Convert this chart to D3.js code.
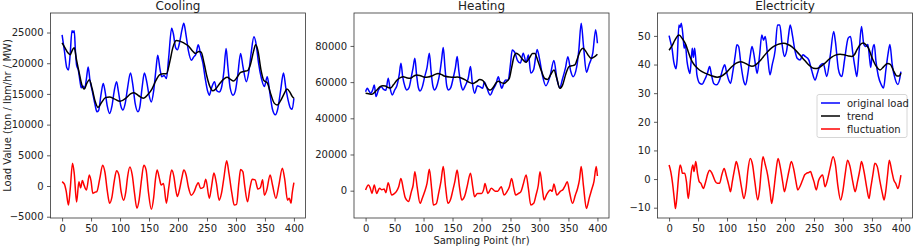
<!DOCTYPE html>
<html>
<head>
<meta charset="utf-8">
<script src="https://cdn.jsdelivr.net/npm/d3@7"></script>
<style>
  body { margin: 0; background: #fff; }
  svg { display: block; }
</style>
</head>
<body>
<svg id="chart"></svg>
<script>
// sampling point (hr), value
var coolLoad = [[0,24600],[4,22000],[8,19300],[11,18900],[14,21500],[17,25300],[19,25000],[21,25300],[23,22000],[25,19700],[28,18900],[31,17000],[33,16000],[36,16300],[39,15900],[42,17500],[45,19400],[48,17300],[52,15500],[57,13200],[60,12100],[63,12300],[67,14800],[71,16700],[74,15500],[78,13000],[82,11800],[86,13000],[90,15500],[94,17000],[97,15500],[101,13200],[105,12400],[109,13500],[113,16000],[118,18400],[122,16500],[126,13500],[131,12100],[134,12800],[138,16000],[142,18400],[146,17000],[150,14800],[154,13700],[158,15500],[162,19000],[165,21300],[169,19000],[172,17800],[176,18000],[180,17500],[184,21000],[189,25700],[192,24800],[196,22500],[199,22200],[203,23500],[207,25500],[210,26500],[214,24500],[218,22000],[223,20500],[227,21000],[231,21500],[235,23000],[239,21500],[243,20000],[247,17500],[251,15500],[254,14800],[258,16000],[263,17000],[267,15500],[271,15300],[275,16000],[279,18500],[283,22400],[286,19500],[290,16000],[295,14800],[299,15500],[303,18000],[308,21600],[312,19500],[318,17000],[322,18500],[326,21500],[331,24300],[335,23000],[339,20000],[344,17500],[349,16200],[354,17800],[358,15500],[363,12500],[368,11600],[372,12500],[377,15500],[382,18400],[386,16000],[390,14000],[394,12700],[397,12500],[400,14300]]
var coolTrend = [[0,23300],[5,22500],[10,21700],[14,21400],[18,22200],[21,22500],[25,20500],[30,18200],[34,16500],[38,15800],[43,16800],[47,17300],[52,15800],[57,13800],[62,12800],[68,13600],[75,14400],[82,14500],[90,14200],[100,13800],[110,14300],[118,15000],[124,15200],[132,14700],[140,14300],[148,14900],[155,15800],[162,17200],[168,18100],[175,18300],[180,18300],[186,20300],[191,22500],[197,23700],[203,23600],[210,23300],[218,22800],[225,22000],[230,21600],[236,21900],[240,21800],[245,20000],[250,17800],[255,16200],[260,15500],[265,15800],[272,16700],[280,17500],[285,17700],[290,17400],[296,17100],[302,17700],[308,18500],[315,18700],[320,18800],[325,19800],[330,21800],[334,23000],[338,22000],[343,19000],[348,17200],[354,16800],[360,15000],[366,13500],[371,13200],[377,13900],[383,15000],[388,15800],[393,15300],[397,14600],[400,14300]]
var coolFluct = [[0,700],[4,300],[7,-800],[11,-3100],[14,-500],[18,3700],[21,2000],[25,-2600],[29,700],[32,-300],[35,900],[38,100],[42,-650],[47,1800],[50,800],[53,-1200],[57,-1000],[60,-900],[65,1200],[70,3400],[74,2200],[78,-800],[82,-2800],[86,-1800],[90,800],[94,2500],[98,1800],[102,-1000],[106,-2300],[110,-900],[113,1500],[117,3100],[121,1800],[125,-1200],[129,-3600],[133,-2200],[137,1000],[141,3400],[145,2600],[149,-1000],[154,-3800],[158,-1900],[161,1000],[164,2600],[168,1200],[171,160],[175,400],[180,-2800],[184,-300],[189,2600],[193,1500],[196,-500],[199,-1700],[203,-400],[207,1500],[210,2600],[214,1800],[218,-200],[223,-1500],[228,-900],[232,100],[235,540],[239,-400],[244,-200],[248,1100],[254,-2000],[258,0],[262,2100],[266,600],[271,-2300],[275,-1200],[279,1200],[284,4100],[288,2000],[293,-1200],[297,-3100],[301,-3000],[305,500],[308,2700],[312,2300],[315,100],[320,-2550],[324,-400],[328,1100],[333,1000],[338,-500],[342,-300],[346,1000],[349,-1500],[353,-700],[359,1800],[363,200],[369,-2000],[374,100],[380,2900],[384,1200],[389,-2300],[392,-2000],[395,-2800],[397,-1200],[400,540]]

var heatLoad = [[0,54700],[3,56600],[6,55000],[9,53800],[12,55500],[15,58400],[18,52000],[22,55500],[27,57500],[31,56000],[35,55500],[39,62100],[42,57000],[46,52900],[50,55500],[54,58000],[58,64000],[61,70400],[64,63000],[68,57500],[71,55700],[75,57000],[79,63000],[82,68000],[85,73200],[88,64000],[91,57000],[94,55100],[98,57500],[102,63000],[106,68000],[110,75900],[113,66000],[116,58000],[119,55700],[124,59000],[128,65000],[131,72000],[134,79100],[137,68000],[140,58000],[143,55700],[147,57000],[151,62000],[155,68000],[158,74100],[161,66000],[165,58000],[168,55700],[172,58000],[177,62000],[181,68600],[184,60000],[188,53800],[193,58000],[197,57500],[202,56600],[205,60000],[209,57000],[215,52900],[220,56000],[225,59000],[229,63000],[232,59500],[235,56600],[239,60000],[242,61200],[246,61000],[250,70000],[253,77800],[258,76000],[262,72000],[267,70500],[272,76000],[277,71000],[281,75000],[285,65000],[290,67000],[296,78000],[300,73000],[305,64000],[311,58000],[318,63000],[325,72000],[330,62000],[335,57000],[340,62000],[345,68000],[349,74000],[354,66000],[358,63000],[364,68000],[368,78000],[372,92500],[376,80000],[381,65500],[386,70000],[392,76000],[397,89000],[400,81500]]
var heatTrend = [[0,53800],[5,53600],[11,53300],[16,54500],[20,55800],[25,57500],[30,58000],[34,57900],[39,57000],[43,56700],[48,58500],[54,61000],[60,62500],[65,63000],[72,62300],[77,62100],[83,63300],[88,64000],[95,63500],[102,62700],[108,62800],[115,63500],[120,64300],[125,64800],[130,64300],[137,63200],[145,62800],[152,62700],[158,62800],[165,62300],[172,61200],[178,60000],[185,59300],[191,60200],[197,61400],[202,61000],[207,58500],[212,56000],[215,55600],[220,57000],[225,59500],[229,60500],[234,59700],[239,59300],[244,60500],[248,62000],[252,68000],[256,74000],[260,76000],[265,75000],[271,72500],[277,71000],[283,73500],[288,75800],[292,75800],[297,72000],[303,66500],[309,62000],[314,61500],[320,64500],[325,66700],[330,62000],[335,56600],[340,58500],[345,64000],[351,68600],[356,69000],[361,69500],[366,73500],[371,77500],[375,78700],[380,77000],[385,74500],[389,73200],[394,73800],[400,75400]]
var heatFluct = [[0,400],[5,3100],[8,1500],[11,-1500],[15,3100],[19,-1500],[24,1300],[28,500],[32,900],[35,-1100],[39,4400],[45,-2400],[49,-1800],[53,-500],[57,2000],[61,6800],[65,1000],[68,-3500],[71,-5200],[74,-6000],[79,-500],[82,3000],[85,10500],[89,2000],[94,-7000],[98,-4000],[102,-500],[106,4000],[110,11800],[114,1000],[117,-7900],[122,-7200],[126,-1500],[130,5000],[134,13300],[138,2000],[142,-7000],[147,-4500],[150,-500],[154,5000],[158,11400],[162,2000],[166,-5200],[171,-3000],[175,2000],[181,9600],[185,2000],[188,-3300],[193,-1500],[200,-1500],[204,1000],[206,4000],[211,-1500],[217,1300],[224,-300],[228,-300],[234,2200],[239,-2400],[244,-500],[248,2000],[252,6800],[256,1000],[259,-2400],[264,-1500],[268,-500],[272,3500],[277,8700],[281,1000],[285,-7900],[290,-7000],[294,-2500],[298,3000],[301,10500],[305,1000],[308,-5200],[312,-2400],[319,370],[322,-300],[325,3700],[330,-2400],[336,-400],[341,800],[344,2500],[348,5000],[352,-1000],[357,-7000],[362,-2400],[366,1500],[369,6000],[372,13300],[376,2500],[381,-9800],[386,-4000],[390,500],[394,5000],[398,13300],[400,8100]]

var elecLoad = [[0,50.1],[3,47.5],[5,45.7],[8,41],[10,39.3],[12,38.5],[14,42],[17,53.8],[19,53],[21,54.4],[24,50],[26,45.7],[28,47],[31,41],[33,38.7],[36,36.9],[38,41],[40,45.7],[42,42.5],[44,45.7],[46,42],[48,36.4],[53,33.4],[57,33.1],[61,34.5],[66,36.9],[70,39.3],[73,36.5],[77,33.4],[82,32.9],[86,34],[90,36.5],[93,38.7],[96,39.9],[99,37.5],[103,34.5],[106,33.4],[110,37.5],[114,43],[117,46.9],[120,46.3],[124,40],[129,34],[132,32.9],[136,37],[140,43],[143,46.3],[146,44],[149,40],[152,36.9],[156,43],[160,50.3],[163,48.5],[166,49.8],[170,43],[174,36.4],[178,40],[183,45],[187,53.8],[191,53.8],[195,47],[199,42.8],[203,45],[206,50],[209,53.8],[213,50],[217,45],[221,42.2],[226,41.6],[231,43.4],[235,42.8],[241,41.6],[246,38],[252,34.6],[256,37],[260,39.5],[266,40.4],[272,35.8],[278,43],[284,51.5],[287,48],[292,38.5],[295,36.4],[298,35.8],[303,42],[309,49.2],[313,49.8],[317,44],[321,38.7],[324,35.8],[328,45],[332,53.3],[336,47],[339,46.3],[343,47],[346,42],[348,39],[351,45],[354,47],[357,41],[361,36],[366,33],[370,31.8],[374,38],[378,44],[381,47],[385,40],[390,35],[395,33],[400,37.5]]
var elecTrend = [[0,45],[5,46.5],[10,48.5],[17,50.3],[23,49],[29,46.9],[33,44.5],[37,42.2],[43,40],[49,38.7],[56,37.6],[63,36.9],[72,36.2],[83,35.6],[90,35.9],[97,36.9],[106,38.8],[115,40.4],[123,41],[130,40.6],[137,39.8],[143,39.4],[150,40],[157,41.3],[163,42.8],[170,44.5],[177,45.8],[183,46.6],[190,47.2],[198,47.4],[205,47],[212,46.2],[220,44.6],[228,42.8],[235,41.2],[242,39.7],[249,38.7],[255,38.6],[261,39.2],[268,40.3],[274,41.5],[280,42.5],[287,43.3],[295,43.6],[302,43.4],[309,43],[315,42.8],[320,43.5],[324,45.1],[330,47],[335,47.5],[340,46.8],[344,45.7],[350,42.5],[357,39.5],[364,38.1],[370,39.2],[377,40.4],[382,40],[388,37.5],[393,36],[397,36],[400,37]]
var elecFluct = [[0,4.9],[3,2.5],[6,-1.5],[9,-7],[11,-10.3],[14,-5],[16,0],[19,4.9],[21,4],[23,2],[27,2],[30,-1],[33,-6.8],[36,-2],[38,2],[41,4.9],[43,2.6],[46,6.1],[49,2],[52,-0.9],[55,-1.5],[59,-3.3],[63,-1],[67,2],[70,3.1],[74,2],[79,-0.5],[83,-1.5],[87,-1.5],[91,1.5],[95,3.7],[99,1],[103,-2.1],[106,-4.4],[109,-1],[113,3.5],[116,6.1],[120,3],[125,-3],[129,-6.8],[133,-3],[136,3],[140,7.2],[144,5],[148,-1],[153,-7.3],[156,-4],[159,3],[162,7.8],[166,5],[170,1.5],[174,-4],[177,-8.5],[180,-5],[184,2],[188,7.2],[192,4],[196,-1],[199,-4.4],[203,-1],[207,3],[211,6.1],[215,3.5],[219,-1],[222,-3.8],[226,-2.5],[230,-0.5],[234,1.5],[237,2],[241,2.3],[244,2.6],[247,1],[250,-0.9],[254,-3.8],[258,-0.5],[262,1],[265,1.4],[269,-2.7],[273,-0.5],[278,4],[283,7.8],[287,5],[291,-2],[296,-7.3],[300,-4],[304,2],[308,6.6],[312,4.5],[317,-1],[321,-4.4],[325,-1],[329,3],[332,6.1],[336,3],[341,-3],[345,-6.8],[348,-3],[352,2],[355,5.5],[359,4.5],[364,-1],[368,-5],[371,-7.3],[374,-4],[377,1.5],[380,6.6],[384,3],[388,-0.5],[391,-1.5],[395,-3.3],[398,-1],[400,1.4]]

var titles = ["Cooling", "Heating", "Electricity"]
var xTicks = [0, 50, 100, 150, 200, 250, 300, 350, 400]
var coolTicks = [-5000, 0, 5000, 10000, 15000, 20000, 25000]
var heatTicks = [0, 20000, 40000, 60000, 80000]
var elecTicks = [-10, 0, 10, 20, 30, 40, 50]
var seriesNames = ["original load", "trend", "fluctuation"]
var seriesColors = ["#0000ff", "#000000", "#ff0000"]

var dimensions = {
  width: 913,
  height: 247,
  plotWidth: 255,
  top: 13,
  bottom: 218,
  lefts: [50.5, 354, 657.5]
}

var panels = [
  { title: titles[0], series: [coolLoad, coolTrend, coolFluct], ticks: coolTicks, domain: [-5210, 28180] },
  { title: titles[1], series: [heatLoad, heatTrend, heatFluct], ticks: heatTicks, domain: [-15100, 98200] },
  { title: titles[2], series: [elecLoad, elecTrend, elecFluct], ticks: elecTicks, domain: [-13.6, 58] }
]

var font = "'DejaVu Sans', sans-serif"
var minus = d => d < 0 ? "\u2212" + Math.abs(d) : String(d)

var svg = d3.select("#chart")
  .attr("width", dimensions.width)
  .attr("height", dimensions.height)
  .style("font-family", font)

panels.forEach(function (p, i) {
  var g = svg.append("g")
    .attr("transform", `translate(${dimensions.lefts[i]},0)`)

  var xScale = d3.scaleLinear()
    .domain([-20, 420])
    .range([0, dimensions.plotWidth])

  var yScale = d3.scaleLinear()
    .domain(p.domain)
    .range([dimensions.bottom, dimensions.top])

  var line = d3.line()
    .x(d => xScale(d[0]))
    .y(d => yScale(d[1]))
    .curve(d3.curveMonotoneX)

  p.series.forEach(function (s, k) {
    g.append("path")
      .datum(s)
      .attr("d", line)
      .attr("fill", "none")
      .attr("stroke", seriesColors[k])
      .attr("stroke-width", 1.5)
      .attr("stroke-linejoin", "round")
  })

  var xAxis = g.append("g")
    .attr("transform", `translate(0,${dimensions.bottom})`)
    .call(d3.axisBottom(xScale).tickValues(xTicks).tickSize(3.5).tickPadding(3).tickFormat(d3.format("d")))
  var yAxis = g.append("g")
    .call(d3.axisLeft(yScale).tickValues(p.ticks).tickSize(3.5).tickPadding(3.5).tickFormat(minus))

  ;[xAxis, yAxis].forEach(function (a) {
    a.select(".domain").remove()
    a.attr("font-family", font).attr("font-size", 10)
    a.selectAll("line").attr("stroke", "#333").attr("stroke-width", 0.8)
    a.selectAll("text").attr("fill", "#222")
  })

  g.append("rect")
    .attr("x", 0)
    .attr("y", dimensions.top)
    .attr("width", dimensions.plotWidth)
    .attr("height", dimensions.bottom - dimensions.top)
    .attr("fill", "none")
    .attr("stroke", "#333")
    .attr("stroke-width", 0.8)

  g.append("text")
    .attr("x", dimensions.plotWidth / 2)
    .attr("y", 9.5)
    .attr("text-anchor", "middle")
    .attr("font-size", 12)
    .attr("fill", "#222")
    .text(p.title)

  if (i == 2) {
    var legend = g.append("g")
      .attr("transform", "translate(159.5,94.5)")
    legend.append("rect")
      .attr("width", 90)
      .attr("height", 43)
      .attr("rx", 2)
      .attr("fill", "#fff")
      .attr("fill-opacity", 0.8)
      .attr("stroke", "#ccc")
      .attr("stroke-width", 0.8)
    seriesNames.forEach(function (name, k) {
      var yy = 8.5 + k * 13
      legend.append("line")
        .attr("x1", 4).attr("x2", 23)
        .attr("y1", yy).attr("y2", yy)
        .attr("stroke", seriesColors[k])
        .attr("stroke-width", 1.5)
      legend.append("text")
        .attr("x", 30)
        .attr("y", yy + 3.5)
        .attr("font-size", 10)
        .attr("fill", "#222")
        .text(name)
    })
  }
})

svg.append("text")
  .attr("transform", "translate(11,115.5) rotate(-90)")
  .attr("text-anchor", "middle")
  .attr("font-size", 10)
  .attr("fill", "#222")
  .text("Load Value (ton / lbm/hr / MW)")

svg.append("text")
  .attr("x", dimensions.lefts[1] + dimensions.plotWidth / 2)
  .attr("y", 244)
  .attr("text-anchor", "middle")
  .attr("font-size", 10)
  .attr("fill", "#222")
  .text("Sampling Point (hr)")
</script>
</body>
</html>
